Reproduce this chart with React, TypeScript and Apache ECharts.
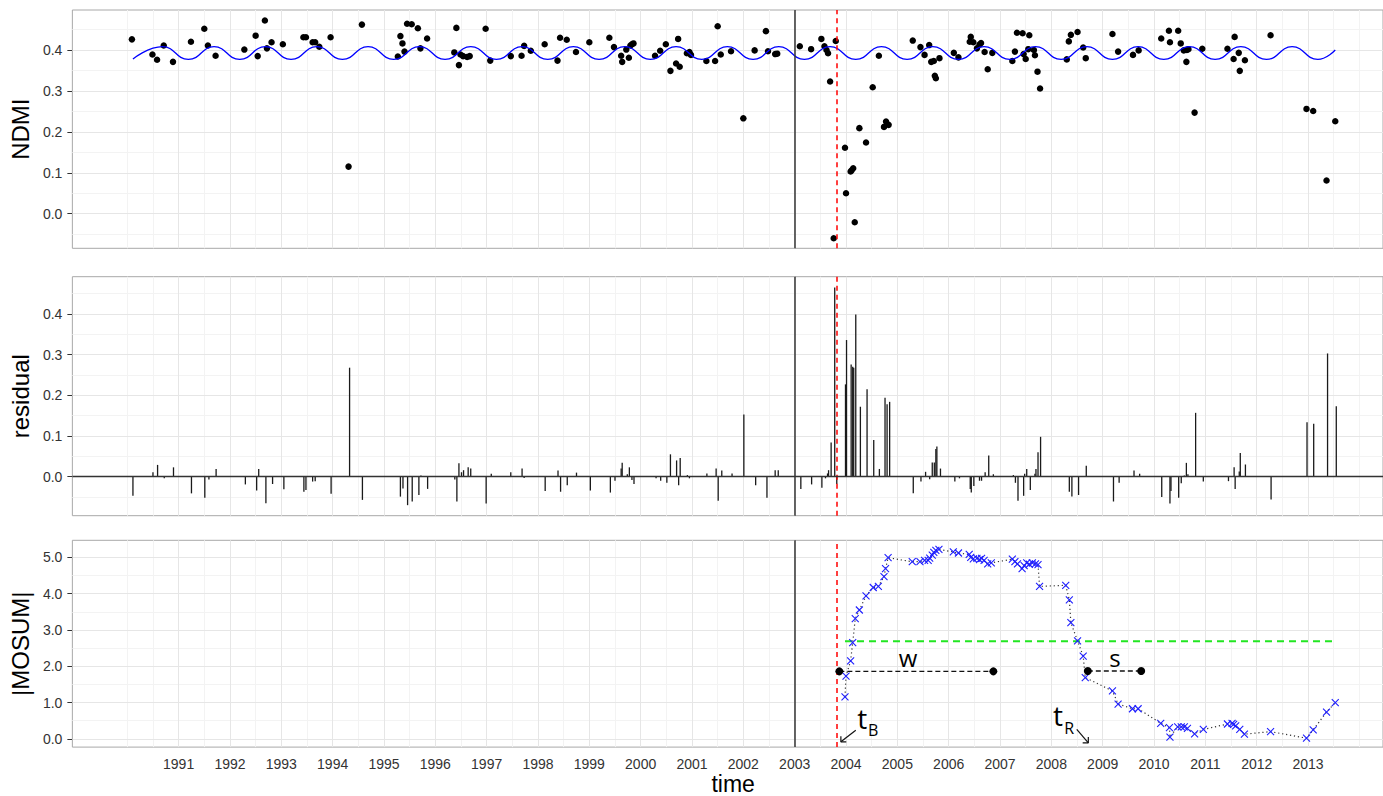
import React, { useEffect, useRef } from "react";
import * as echarts from "echarts";

// ---------- shared time axis ----------
const X_MIN = 1988.93;
const X_MAX = 2014.46;
const yearTicks = [1991, 1992, 1993, 1994, 1995, 1996, 1997, 1998, 1999, 2000, 2001, 2002, 2003, 2004, 2005, 2006, 2007, 2008, 2009, 2010, 2011, 2012, 2013];
const xMinorGrid = [1990, 1990.5, 1991.5, 1992.5, 1993.5, 1994.5, 1995.5, 1996.5, 1997.5, 1998.5, 1999.5, 2000.5, 2001.5, 2002.5, 2003.5, 2004.5, 2005.5, 2006.5, 2007.5, 2008.5, 2009.5, 2010.5, 2011.5, 2012.5, 2013.5, 2014];

// ---------- NDMI observations ----------
const ndmiYears = [1990.09, 1990.49, 1990.58, 1990.71, 1990.89, 1991.24, 1991.50, 1991.57, 1991.72, 1992.28, 1992.50, 1992.54, 1992.68, 1992.72, 1992.81, 1993.03, 1993.43, 1993.48, 1993.61, 1993.66, 1993.74, 1993.96, 1994.31, 1994.57, 1995.27, 1995.32, 1995.36, 1995.40, 1995.45, 1995.54, 1995.66, 1995.71, 1995.84, 1996.37, 1996.41, 1996.46, 1996.49, 1996.54, 1996.62, 1996.67, 1996.98, 1997.07, 1997.47, 1997.68, 1997.73, 1997.86, 1998.13, 1998.38, 1998.43, 1998.56, 1998.74, 1999.00, 1999.39, 1999.48, 1999.62, 1999.64, 1999.72, 1999.77, 1999.80, 1999.83, 1999.86, 2000.28, 2000.38, 2000.49, 2000.58, 2000.69, 2000.73, 2000.76, 2000.90, 2000.95, 2000.98, 2001.28, 2001.45, 2001.50, 2001.56, 2001.76, 2002.00, 2002.22, 2002.44, 2002.48, 2002.62, 2002.66, 2003.10, 2003.32, 2003.52, 2003.58, 2003.62, 2003.65, 2003.69, 2003.76, 2003.80, 2003.98, 2004.00, 2004.09, 2004.11, 2004.14, 2004.17, 2004.26, 2004.39, 2004.52, 2004.64, 2004.74, 2004.78, 2004.83, 2005.30, 2005.45, 2005.53, 2005.62, 2005.66, 2005.71, 2005.73, 2005.75, 2005.82, 2006.10, 2006.19, 2006.41, 2006.43, 2006.48, 2006.55, 2006.60, 2006.63, 2006.70, 2006.76, 2006.85, 2007.24, 2007.29, 2007.33, 2007.44, 2007.46, 2007.50, 2007.55, 2007.57, 2007.66, 2007.68, 2007.73, 2007.78, 2008.30, 2008.34, 2008.38, 2008.51, 2008.62, 2008.67, 2009.19, 2009.30, 2009.59, 2009.70, 2010.14, 2010.29, 2010.31, 2010.47, 2010.52, 2010.58, 2010.63, 2010.64, 2010.67, 2010.79, 2010.94, 2011.43, 2011.55, 2011.57, 2011.65, 2011.67, 2011.77, 2012.27, 2012.97, 2013.10, 2013.36, 2013.53];
const ndmiValues = [0.426, 0.389, 0.376, 0.411, 0.371, 0.420, 0.452, 0.411, 0.386, 0.401, 0.435, 0.385, 0.472, 0.404, 0.419, 0.414, 0.431, 0.431, 0.419, 0.419, 0.408, 0.431, 0.115, 0.462, 0.384, 0.434, 0.416, 0.396, 0.464, 0.463, 0.453, 0.404, 0.428, 0.394, 0.454, 0.363, 0.389, 0.385, 0.383, 0.385, 0.452, 0.374, 0.385, 0.386, 0.410, 0.398, 0.414, 0.374, 0.430, 0.425, 0.395, 0.419, 0.430, 0.407, 0.386, 0.371, 0.401, 0.381, 0.411, 0.414, 0.416, 0.386, 0.398, 0.414, 0.349, 0.367, 0.427, 0.359, 0.392, 0.395, 0.388, 0.373, 0.373, 0.458, 0.389, 0.397, 0.233, 0.399, 0.446, 0.397, 0.390, 0.391, 0.409, 0.402, 0.427, 0.409, 0.400, 0.392, 0.323, -0.060, 0.422, 0.161, 0.050, 0.103, 0.106, 0.111, -0.021, 0.209, 0.174, 0.309, 0.386, 0.212, 0.225, 0.217, 0.423, 0.407, 0.388, 0.412, 0.371, 0.373, 0.337, 0.331, 0.380, 0.393, 0.382, 0.420, 0.432, 0.419, 0.404, 0.413, 0.417, 0.395, 0.353, 0.393, 0.373, 0.396, 0.442, 0.441, 0.390, 0.378, 0.402, 0.436, 0.400, 0.387, 0.347, 0.306, 0.377, 0.421, 0.437, 0.444, 0.406, 0.380, 0.439, 0.396, 0.388, 0.399, 0.428, 0.447, 0.419, 0.447, 0.416, 0.399, 0.371, 0.400, 0.402, 0.247, 0.403, 0.403, 0.378, 0.432, 0.393, 0.349, 0.375, 0.436, 0.256, 0.251, 0.081, 0.226];

// ---------- fitted seasonal model (peaks / troughs) ----------
const fitYears = [1990.11, 1990.69, 1991.19, 1991.69, 1992.19, 1992.69, 1993.19, 1993.69, 1994.19, 1994.69, 1995.19, 1995.69, 1996.19, 1996.69, 1997.19, 1997.69, 1998.19, 1998.69, 1999.19, 1999.69, 2000.19, 2000.69, 2001.19, 2001.69, 2002.19, 2002.69, 2003.19, 2003.69, 2004.19, 2004.69, 2005.19, 2005.69, 2006.19, 2006.69, 2007.19, 2007.69, 2008.19, 2008.69, 2009.19, 2009.69, 2010.19, 2010.69, 2011.19, 2011.69, 2012.19, 2012.69, 2013.19, 2013.53];
const fitValues = [0.378, 0.408, 0.377, 0.408, 0.377, 0.408, 0.377, 0.408, 0.377, 0.408, 0.377, 0.408, 0.377, 0.408, 0.377, 0.408, 0.377, 0.408, 0.377, 0.408, 0.377, 0.408, 0.377, 0.408, 0.377, 0.408, 0.377, 0.408, 0.377, 0.408, 0.377, 0.408, 0.377, 0.408, 0.377, 0.408, 0.377, 0.408, 0.377, 0.408, 0.377, 0.408, 0.377, 0.408, 0.377, 0.408, 0.377, 0.400];

// ---------- residuals ----------
const residYears = [1990.11, 1990.50, 1990.59, 1990.72, 1990.90, 1991.25, 1991.51, 1991.59, 1991.73, 1992.30, 1992.52, 1992.56, 1992.70, 1992.83, 1993.05, 1993.44, 1993.48, 1993.61, 1993.66, 1993.97, 1994.33, 1994.58, 1995.32, 1995.37, 1995.46, 1995.55, 1995.68, 1995.72, 1995.85, 1996.38, 1996.42, 1996.46, 1996.51, 1996.55, 1996.64, 1996.69, 1996.99, 1997.09, 1997.47, 1997.69, 1997.73, 1998.14, 1998.39, 1998.44, 1998.57, 1998.75, 1999.02, 1999.41, 1999.50, 1999.62, 1999.64, 1999.74, 1999.78, 1999.83, 1999.87, 2000.30, 2000.39, 2000.51, 2000.58, 2000.70, 2000.74, 2000.77, 2000.91, 2000.95, 2001.29, 2001.47, 2001.51, 2001.58, 2001.78, 2002.01, 2002.24, 2002.46, 2002.62, 2002.68, 2003.12, 2003.33, 2003.53, 2003.60, 2003.64, 2003.66, 2003.71, 2003.78, 2003.82, 2003.99, 2004.01, 2004.10, 2004.13, 2004.15, 2004.19, 2004.28, 2004.41, 2004.54, 2004.65, 2004.76, 2004.80, 2004.85, 2005.31, 2005.46, 2005.55, 2005.63, 2005.68, 2005.72, 2005.75, 2005.77, 2005.84, 2006.12, 2006.21, 2006.42, 2006.44, 2006.49, 2006.60, 2006.64, 2006.71, 2006.78, 2006.87, 2007.26, 2007.30, 2007.35, 2007.46, 2007.48, 2007.52, 2007.59, 2007.68, 2007.70, 2007.74, 2007.79, 2008.31, 2008.35, 2008.40, 2008.53, 2008.68, 2009.21, 2009.32, 2009.61, 2009.72, 2010.15, 2010.31, 2010.33, 2010.48, 2010.53, 2010.59, 2010.63, 2010.66, 2010.81, 2010.96, 2011.45, 2011.56, 2011.58, 2011.66, 2011.68, 2011.78, 2012.28, 2012.98, 2013.11, 2013.38, 2013.55];
const residValues = [-0.047, 0.011, 0.029, -0.004, 0.023, -0.041, -0.052, -0.007, 0.019, -0.019, -0.034, 0.019, -0.065, -0.018, -0.031, -0.037, -0.033, -0.012, -0.011, -0.042, 0.268, -0.057, -0.049, -0.029, -0.070, -0.061, -0.045, 0.003, -0.030, -0.007, -0.061, 0.033, 0.011, 0.016, 0.023, 0.020, -0.066, 0.007, 0.011, 0.020, -0.003, -0.035, 0.015, -0.037, -0.021, 0.010, -0.034, -0.039, -0.010, 0.020, 0.034, 0.006, 0.023, -0.008, -0.018, -0.004, -0.010, -0.015, 0.055, 0.040, -0.021, 0.046, 0.004, -0.004, 0.008, 0.020, -0.059, 0.015, 0.008, 0.153, -0.021, -0.052, 0.016, 0.016, -0.030, -0.019, -0.027, -0.004, 0.008, 0.016, 0.084, 0.465, -0.018, 0.227, 0.336, 0.276, 0.270, 0.268, 0.399, 0.172, 0.215, 0.090, 0.019, 0.194, 0.178, 0.184, -0.041, -0.012, 0.012, -0.006, 0.035, 0.035, 0.068, 0.074, 0.020, -0.012, -0.004, -0.030, -0.039, -0.023, -0.010, -0.010, 0.011, 0.052, 0.006, 0.004, -0.015, -0.059, -0.047, 0.007, 0.019, -0.033, 0.007, 0.019, 0.060, 0.098, 0.002, -0.037, -0.049, -0.045, 0.027, -0.061, -0.015, 0.015, 0.007, -0.050, -0.066, -0.035, -0.052, -0.016, 0.003, 0.034, 0.006, 0.157, -0.012, -0.011, 0.023, -0.030, 0.013, 0.058, 0.030, -0.056, 0.134, 0.130, 0.303, 0.173];

// ---------- |MOSUM| ----------
const mosumYears = [2003.98, 2004.00, 2004.09, 2004.13, 2004.18, 2004.26, 2004.39, 2004.53, 2004.63, 2004.74, 2004.77, 2004.82, 2005.29, 2005.44, 2005.53, 2005.60, 2005.63, 2005.68, 2005.71, 2005.75, 2005.81, 2006.09, 2006.19, 2006.40, 2006.43, 2006.48, 2006.55, 2006.60, 2006.64, 2006.69, 2006.76, 2006.83, 2007.24, 2007.29, 2007.34, 2007.43, 2007.47, 2007.52, 2007.57, 2007.63, 2007.69, 2007.74, 2007.77, 2008.28, 2008.35, 2008.38, 2008.51, 2008.62, 2008.66, 2009.19, 2009.30, 2009.58, 2009.69, 2010.13, 2010.30, 2010.31, 2010.46, 2010.53, 2010.59, 2010.65, 2010.79, 2010.96, 2011.43, 2011.52, 2011.55, 2011.59, 2011.67, 2011.76, 2012.27, 2012.97, 2013.10, 2013.36, 2013.53];
const mosumValues = [1.16, 1.73, 2.15, 2.65, 3.31, 3.55, 3.94, 4.17, 4.20, 4.47, 4.69, 4.99, 4.88, 4.88, 4.92, 4.92, 4.98, 5.06, 5.14, 5.19, 5.22, 5.15, 5.12, 5.08, 5.00, 4.96, 4.97, 4.94, 4.97, 4.92, 4.82, 4.85, 4.95, 4.88, 4.82, 4.69, 4.77, 4.85, 4.81, 4.85, 4.82, 4.80, 4.20, 4.23, 3.83, 3.20, 2.70, 2.28, 1.69, 1.32, 0.96, 0.83, 0.83, 0.43, 0.31, 0.05, 0.33, 0.33, 0.33, 0.29, 0.14, 0.26, 0.41, 0.43, 0.40, 0.36, 0.26, 0.13, 0.20, 0.02, 0.25, 0.74, 1.00];

// ---------- events & annotations ----------
const historyEnd = 2003.0;
const breakYear = 2003.82;
const thresholdLine = [[2003.98, 2.69], [2013.53, 2.69]];
const wSegment = [[2003.87, 1.86], [2006.87, 1.86]];
const sSegment = [[2008.71, 1.87], [2009.75, 1.87]];
const tBArrow = [[2004.19, 0.239], [2003.9, -0.081]];
const tBHead = [[2003.9, 0.073], [2003.9, -0.081], [2004.005, -0.081]];
const tRArrow = [[2008.495, 0.263], [2008.72, -0.109]];
const tRHead = [[2008.61, -0.109], [2008.72, -0.109], [2008.72, 0.054]];
const annotTexts = [
  { name: "w", at: [2005.21, 2.23], size: 24 },
  { name: "s", at: [2009.24, 2.25], size: 24 },
  { name: "t", at: [2004.316, 0.572], size: 28 },
  { name: "B", at: [2004.53, 0.233], size: 16 },
  { name: "t", at: [2008.13, 0.646], size: 28 },
  { name: "R", at: [2008.345, 0.288], size: 16 },
];

// ---------- panels ----------
const yNames = ["NDMI", "residual", "|MOSUM|"];
const yMin = [-0.0846, -0.0959, -0.226];
const yMax = [0.4977, 0.4917, 5.47];
const yTicks = [
  [0, 0.1, 0.2, 0.3, 0.4],
  [0, 0.1, 0.2, 0.3, 0.4],
  [0, 1, 2, 3, 4, 5],
];
const yMinorGrid = [
  [-0.05, 0.05, 0.15, 0.25, 0.35, 0.45],
  [-0.05, 0.05, 0.15, 0.25, 0.35, 0.45],
  [0.5, 1.5, 2.5, 3.5, 4.5],
];
const panelTop = [10, 276.7, 540.3];
const panelHeight = [238.3, 239, 210];

const FONT = "'Liberation Sans', Arial, Helvetica, sans-serif";
const ANNOT_FONT = "'Open Sans', 'Noto Sans', sans-serif";
const MAJOR_C = "#e6e6e6";
const MINOR_C = "#f3f3f3";

function zip(xs: number[], ys: number[]) {
  return xs.map((x, i) => [x, ys[i]]);
}

function gridAndEventLines(i: number) {
  const d: any[] = [];
  xMinorGrid.forEach((v) => d.push({ xAxis: v, lineStyle: { color: MINOR_C, width: 1, type: "solid" } }));
  yMinorGrid[i].forEach((v) => d.push({ yAxis: v, lineStyle: { color: MINOR_C, width: 1, type: "solid" } }));
  yearTicks.forEach((v) => d.push({ xAxis: v, lineStyle: { color: MAJOR_C, width: 1, type: "solid" } }));
  yTicks[i].forEach((v) => d.push({ yAxis: v, lineStyle: { color: MAJOR_C, width: 1, type: "solid" } }));
  return {
    silent: true,
    symbol: ["none", "none"],
    z: 1,
    label: { show: false },
    emphasis: { disabled: true },
    data: d,
  };
}

function eventLines(i: number) {
  const d: any[] = [
    { xAxis: historyEnd, lineStyle: { color: "#333333", width: 1.5, type: "solid" } },
    { xAxis: breakYear, lineStyle: { color: "#ff0000", width: 1.5, type: [5, 4] } },
  ];
  if (i === 1) d.push({ yAxis: 0, lineStyle: { color: "#333333", width: 1.3, type: "solid" } });
  return {
    silent: true,
    symbol: ["none", "none"],
    z: 6,
    label: { show: false },
    emphasis: { disabled: true },
    data: d,
  };
}

function buildOption(): any {
  const grids = [0, 1, 2].map((i) => ({
    left: 70,
    right: -2,
    top: panelTop[i],
    height: panelHeight[i],
    show: true,
    borderColor: "#a8a8a8",
    borderWidth: 1,
    backgroundColor: "transparent",
    containLabel: false,
  }));

  const xAxes = [0, 1, 2].map((i) => ({
    type: "value",
    gridIndex: i,
    min: X_MIN,
    max: X_MAX,
    axisLine: { show: false },
    splitLine: { show: false },
    axisTick: { show: true, customValues: yearTicks, length: 5, lineStyle: { color: "#333", width: 1 } },
    axisLabel: {
      show: i === 2,
      customValues: yearTicks,
      fontFamily: FONT,
      fontSize: 14,
      color: "#333",
      margin: 10,
      formatter: (v: number) => String(Math.round(v)),
    },
    name: i === 2 ? "time" : "",
    nameLocation: "middle",
    nameGap: 21,
    nameTextStyle: { fontFamily: FONT, fontSize: 23, color: "#000", padding: [0, 0, 0, 11] },
  }));

  const yAxes = [0, 1, 2].map((i) => ({
    type: "value",
    gridIndex: i,
    min: yMin[i],
    max: yMax[i],
    axisLine: { show: false },
    splitLine: { show: false },
    axisTick: { show: true, customValues: yTicks[i], length: 5, lineStyle: { color: "#333", width: 1 } },
    axisLabel: {
      show: true,
      customValues: yTicks[i],
      fontFamily: FONT,
      fontSize: 14,
      color: "#333",
      margin: 10,
      formatter: (v: number) => v.toFixed(1),
    },
    name: yNames[i],
    nameLocation: "middle",
    nameGap: 25,
    nameTextStyle: { fontFamily: FONT, fontSize: 24, color: "#000" },
  }));

  const series: any[] = [
    // panel 1
    {
      type: "scatter",
      xAxisIndex: 0,
      yAxisIndex: 0,
      data: zip(ndmiYears, ndmiValues),
      symbol: "circle",
      symbolSize: 6.5,
      itemStyle: { color: "#000", opacity: 1 },
      z: 3,
      markLine: gridAndEventLines(0),
    },
    {
      type: "line",
      xAxisIndex: 0,
      yAxisIndex: 0,
      data: zip(fitYears, fitValues),
      smooth: 0.5,
      smoothMonotone: "x",
      symbol: "none",
      lineStyle: { color: "#0000ff", width: 1.3 },
      z: 4,
      markLine: eventLines(0),
    },
    // panel 2
    {
      type: "custom",
      xAxisIndex: 1,
      yAxisIndex: 1,
      data: zip(residYears, residValues),
      encode: { x: 0, y: 1 },
      z: 3,
      renderItem: (params: any, api: any) => {
        const x = api.value(0);
        const v = api.value(1);
        const p0 = api.coord([x, 0]);
        const p1 = api.coord([x, v]);
        return {
          type: "line",
          shape: { x1: p0[0], y1: p0[1], x2: p1[0], y2: p1[1] },
          style: { stroke: "#1a1a1a", lineWidth: 1.3 },
        };
      },
      markLine: gridAndEventLines(1),
    },
    {
      type: "line",
      xAxisIndex: 1,
      yAxisIndex: 1,
      data: [[historyEnd, 0]],
      symbol: "none",
      lineStyle: { width: 0 },
      z: 2,
      markLine: eventLines(1),
    },
    // panel 3
    {
      type: "line",
      xAxisIndex: 2,
      yAxisIndex: 2,
      data: zip(mosumYears, mosumValues),
      symbol: "none",
      lineStyle: { color: "#333", width: 1.2, type: [1.2, 2.8] },
      z: 3,
      markLine: gridAndEventLines(2),
    },
    {
      type: "scatter",
      xAxisIndex: 2,
      yAxisIndex: 2,
      data: zip(mosumYears, mosumValues),
      symbol: "path://M0,0L10,10M10,0L0,10",
      symbolSize: 7,
      itemStyle: { color: "rgba(0,0,0,0)", borderColor: "#1f1fff", borderWidth: 1.1, opacity: 1 },
      z: 4,
    },
    {
      type: "line",
      xAxisIndex: 2,
      yAxisIndex: 2,
      data: thresholdLine,
      symbol: "none",
      lineStyle: { color: "#22e622", width: 2, type: [7, 5] },
      z: 3,
      markLine: eventLines(2),
    },
    {
      type: "line",
      xAxisIndex: 2,
      yAxisIndex: 2,
      data: wSegment,
      symbol: "circle",
      symbolSize: 8,
      showSymbol: true,
      itemStyle: { color: "#000" },
      lineStyle: { color: "#111", width: 1.3, type: [5, 3] },
      z: 7,
    },
    {
      type: "line",
      xAxisIndex: 2,
      yAxisIndex: 2,
      data: sSegment,
      symbol: "circle",
      symbolSize: 8,
      showSymbol: true,
      itemStyle: { color: "#000" },
      lineStyle: { color: "#111", width: 1.3, type: [5, 3] },
      z: 7,
    },
    ...[tBArrow, tBHead, tRArrow, tRHead].map((seg) => ({
      type: "line",
      xAxisIndex: 2,
      yAxisIndex: 2,
      data: seg,
      symbol: "none",
      lineStyle: { color: "#111", width: 1.2 },
      z: 7,
    })),
    {
      type: "scatter",
      xAxisIndex: 2,
      yAxisIndex: 2,
      symbolSize: 1,
      itemStyle: { color: "rgba(0,0,0,0)", opacity: 1 },
      z: 8,
      data: annotTexts.map((a) => ({
        value: a.at,
        name: a.name,
        label: {
          show: true,
          position: "inside",
          formatter: a.name,
          fontFamily: ANNOT_FONT,
          fontSize: a.size,
          color: "#000",
          opacity: 1,
          align: "center",
          verticalAlign: "middle",
        },
      })),
    },
  ];

  return {
    animation: false,
    backgroundColor: "#ffffff",
    grid: grids,
    xAxis: xAxes,
    yAxis: yAxes,
    series,
  };
}

export default function App() {
  const ref = useRef<HTMLDivElement>(null);
  useEffect(() => {
    if (!ref.current) return;
    const chart = echarts.init(ref.current, null, { renderer: "svg" });
    chart.setOption(buildOption());
    return () => chart.dispose();
  }, []);
  return (
    <div
      ref={ref}
      style={{ position: "fixed", left: 0, top: 0, width: 1383, height: 796, background: "#fff" }}
    />
  );
}
